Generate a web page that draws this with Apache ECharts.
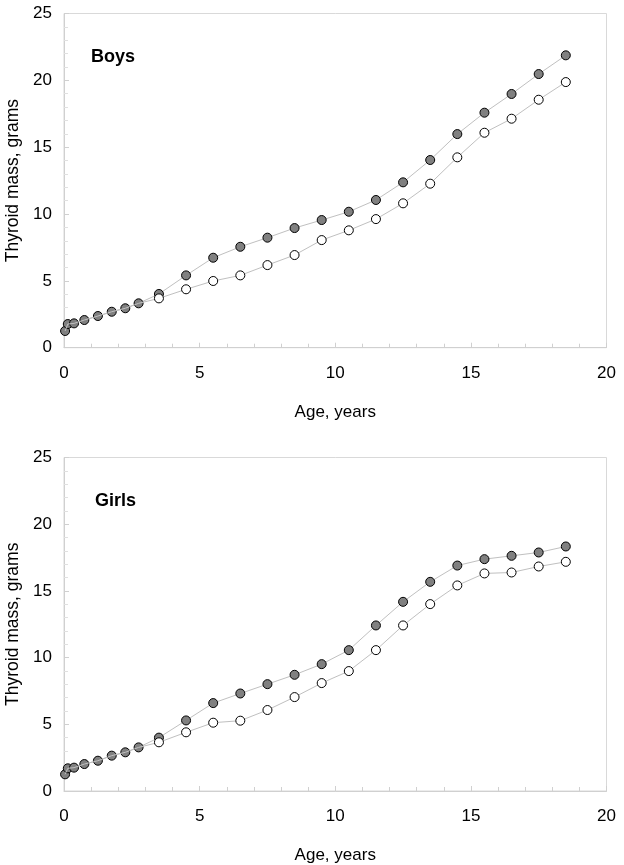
<!DOCTYPE html>
<html>
<head>
<meta charset="utf-8">
<script src="https://cdn.jsdelivr.net/npm/echarts@6/dist/echarts.min.js"></script>
<style>
html,body{margin:0;padding:0;background:#fff;}
#c{width:624px;height:865px;}
</style>
</head>
<body>
<div id="c"></div>
<script>
var ages = [0.04, 0.14, 0.37, 0.75, 1.25, 1.76, 2.26, 2.75, 3.5, 4.5, 5.5, 6.5, 7.5, 8.5, 9.5, 10.5, 11.5, 12.5, 13.5, 14.5, 15.5, 16.5, 17.5, 18.5];
var boysFilled = [1.25, 1.77, 1.82, 2.07, 2.37, 2.69, 2.95, 3.32, 4.02, 5.41, 6.73, 7.55, 8.23, 8.95, 9.55, 10.17, 11.05, 12.37, 14.04, 15.98, 17.58, 18.98, 20.47, 21.87];
var boysOpen   = [1.25, 1.77, 1.82, 2.07, 2.37, 2.69, 2.95, 3.32, 3.69, 4.37, 4.99, 5.41, 6.18, 6.93, 8.05, 8.78, 9.62, 10.8, 12.27, 14.24, 16.08, 17.13, 18.55, 19.87];
var girlsFilled = [1.25, 1.7, 1.75, 2.02, 2.27, 2.65, 2.9, 3.27, 4.0, 5.29, 6.59, 7.31, 8.01, 8.71, 9.51, 10.56, 12.41, 14.18, 15.68, 16.9, 17.38, 17.63, 17.88, 18.33];
var girlsOpen   = [1.25, 1.7, 1.75, 2.02, 2.27, 2.65, 2.9, 3.27, 3.65, 4.4, 5.12, 5.27, 6.07, 7.04, 8.09, 8.99, 10.56, 12.41, 14.01, 15.41, 16.31, 16.38, 16.83, 17.18];
var panelTitles = ['Boys', 'Girls'];
var xTitle = 'Age, years';
var yTitle = 'Thyroid mass, grams';

var FONT = '"Liberation Sans", Arial, sans-serif';
var chart = echarts.init(document.getElementById('c'), null, {renderer: 'canvas'});

function filledData(vals) {
  return ages.map(function (a, i) { return [a, vals[i]]; });
}
function openData(vals, ref) {
  return ages.map(function (a, i) {
    if (vals[i] === ref[i]) return {value: [a, vals[i]], symbol: 'none'};
    return [a, vals[i]];
  });
}

var grids = [
  {left: 64, top: 13.5, width: 542.5, height: 334.2},
  {left: 64, top: 457.5, width: 542.5, height: 333.5}
];
grids.forEach(function (g) {
  g.show = true; g.borderColor = '#d9d9d9'; g.borderWidth = 1; g.backgroundColor = 'transparent';
  g.containLabel = false; g.outerBoundsMode = 'none';
});

function xAxis(idx) {
  return {
    type: 'value', gridIndex: idx, min: 0, max: 20, interval: 5,
    name: xTitle, nameLocation: 'middle', nameGap: 56,
    nameTextStyle: {fontFamily: FONT, fontSize: 17, color: '#000'},
    axisLine: {show: true, lineStyle: {color: '#d0d0d0', width: 1}},
    axisTick: {show: true, inside: true, length: 5, lineStyle: {color: '#d0d0d0'}},
    minorTick: {show: true, splitNumber: 5, length: 4, lineStyle: {color: '#d0d0d0'}},
    axisLabel: {fontFamily: FONT, fontSize: 17, color: '#000', margin: 17},
    splitLine: {show: false}
  };
}
function yAxis(idx) {
  return {
    type: 'value', gridIndex: idx, min: 0, max: 25, interval: 5,
    name: yTitle, nameLocation: 'middle', nameGap: 39, nameRotate: 90,
    nameTextStyle: {fontFamily: FONT, fontSize: 17.5, color: '#000'},
    axisLine: {show: true, lineStyle: {color: '#d0d0d0', width: 1}},
    axisTick: {show: true, inside: true, length: 5, lineStyle: {color: '#d0d0d0'}},
    minorTick: {show: true, splitNumber: 5, length: 4, lineStyle: {color: '#e0e0e0'}},
    axisLabel: {fontFamily: FONT, fontSize: 17, color: '#000', margin: 12},
    splitLine: {show: false}
  };
}

var lineStyle = {color: '#c0c0c0', width: 1};
function filledSeries(idx, vals) {
  return {
    type: 'line', xAxisIndex: idx, yAxisIndex: idx, data: filledData(vals),
    symbol: 'circle', symbolSize: 9, z: 2,
    lineStyle: lineStyle,
    itemStyle: {color: '#808080', borderColor: '#000', borderWidth: 1},
    emphasis: {disabled: true}, animation: false
  };
}
function openSeries(idx, vals, ref) {
  return {
    type: 'line', xAxisIndex: idx, yAxisIndex: idx, data: openData(vals, ref),
    symbol: 'circle', symbolSize: 9, z: 3, showSymbol: true,
    lineStyle: lineStyle,
    itemStyle: {color: '#fff', borderColor: '#000', borderWidth: 1},
    emphasis: {disabled: true}, animation: false
  };
}

chart.setOption({
  backgroundColor: '#fff',
  animation: false,
  title: [
    {text: panelTitles[0], left: 91, top: 48, padding: 0, textStyle: {fontFamily: FONT, fontSize: 18, fontWeight: 'bold', color: '#000'}},
    {text: panelTitles[1], left: 95, top: 492, padding: 0, textStyle: {fontFamily: FONT, fontSize: 18, fontWeight: 'bold', color: '#000'}}
  ],
  grid: grids,
  xAxis: [xAxis(0), xAxis(1)],
  yAxis: [yAxis(0), yAxis(1)],
  series: [
    filledSeries(0, boysFilled),
    openSeries(0, boysOpen, boysFilled),
    filledSeries(1, girlsFilled),
    openSeries(1, girlsOpen, girlsFilled)
  ]
});
</script>
</body>
</html>
